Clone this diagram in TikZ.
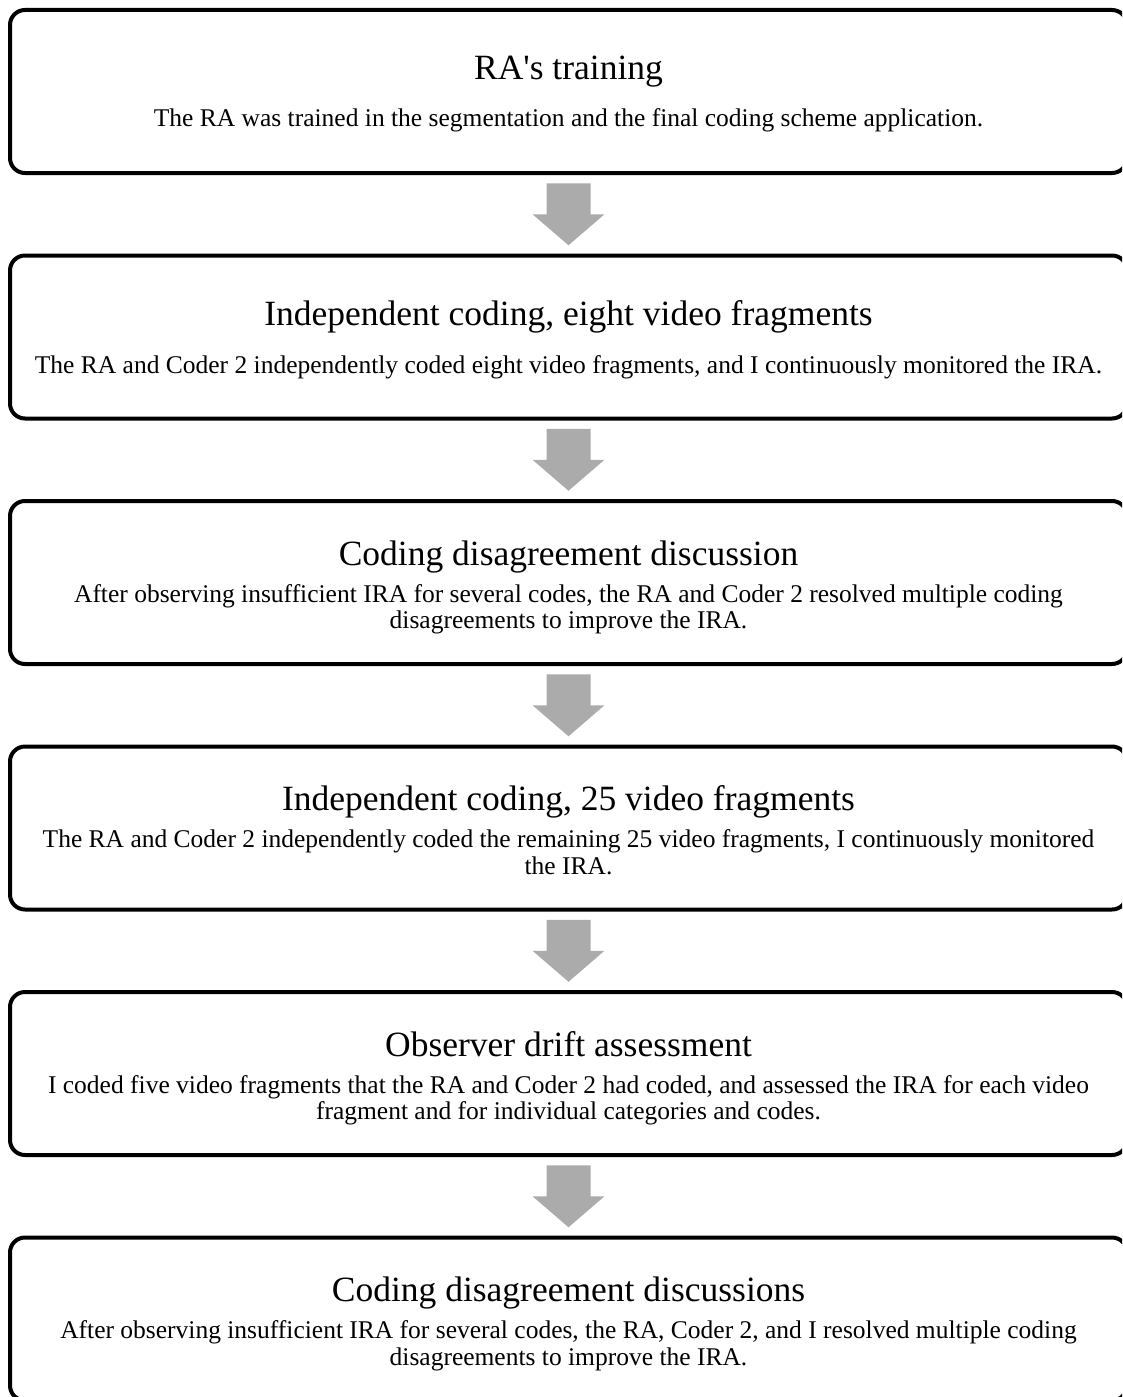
\documentclass[tikz,border=0pt]{standalone}
\usepackage{fontspec}
\setmainfont{Liberation Serif}[Ligatures=TeXOff]
\begin{document}
\begin{tikzpicture}[x=1pt,y=-1pt,
  stagebox/.style={draw=black,line width=4pt,rounded corners=15pt,
    minimum width=1117pt,minimum height=163pt,inner sep=0pt},
  headtext/.style={font=\fontsize{35.5}{42}\selectfont,inner sep=0pt,anchor=base},
  bodytext/.style={font=\fontsize{25.5}{26.5}\selectfont,inner sep=0pt,align=center,anchor=base},
  flowarrow/.style={fill=black!33,draw=none}]
\useasboundingbox (0,0) rectangle (1122,1397);
\clip (0,0) rectangle (1122,1397);

% stage boxes (right and bottom edges run past the page)
\foreach \k in {0,...,5}{
  \node[stagebox] (b\k) at (568.5,{91.5+245.5*\k}) {};
}

% titles and descriptions (body nodes are anchored at their last baseline)
\node[headtext] (t0) at ([yshift=12pt]b0.center) {RA's training};
\node[bodytext] (d0) at ([yshift=-35pt]b0.center) {The RA was trained in the segmentation and the final coding scheme application.};

\node[headtext] (t1) at ([yshift=12pt]b1.center) {Independent coding, eight video fragments};
\node[bodytext] (d1) at ([yshift=-36pt]b1.center) {The RA and Coder 2 independently coded eight video fragments, and I continuously monitored the IRA.};

\node[headtext] (t2) at ([yshift=17.5pt]b2.center) {Coding disagreement discussion};
\node[bodytext] (d2) at ([yshift=-46pt]b2.center) {After observing insufficient IRA for several codes, the RA and Coder 2 resolved multiple coding\\disagreements to improve the IRA.};

\node[headtext] (t3) at ([yshift=17.5pt]b3.center) {Independent coding, 25 video fragments};
\node[bodytext] (d3) at ([yshift=-46pt]b3.center) {The RA and Coder 2 independently coded the remaining 25 video fragments, I continuously monitored\\the IRA.};

\node[headtext] (t4) at ([yshift=17.5pt]b4.center) {Observer drift assessment};
\node[bodytext] (d4) at ([yshift=-46pt]b4.center) {I coded five video fragments that the RA and Coder 2 had coded, and assessed the IRA for each video\\fragment and for individual categories and codes.};

\node[headtext] (t5) at ([yshift=17.5pt]b5.center) {Coding disagreement discussions};
\node[bodytext] (d5) at ([yshift=-46pt]b5.center) {After observing insufficient IRA for several codes, the RA, Coder 2, and I resolved multiple coding\\disagreements to improve the IRA.};

% block arrows between consecutive stages
\foreach \a/\b in {0/1,1/2,2/3,3/4,4/5}{
  \path (b\a.south) -- (b\b.north) coordinate[midway] (m\a);
  \fill[flowarrow] ([shift={(-22,-31)}]m\a) -- ([shift={(22,-31)}]m\a)
    -- ([shift={(22,0)}]m\a) -- ([shift={(36,0)}]m\a)
    -- ([shift={(0,31)}]m\a) -- ([shift={(-36,0)}]m\a)
    -- ([shift={(-22,0)}]m\a) -- cycle;
}
\end{tikzpicture}
\end{document}
